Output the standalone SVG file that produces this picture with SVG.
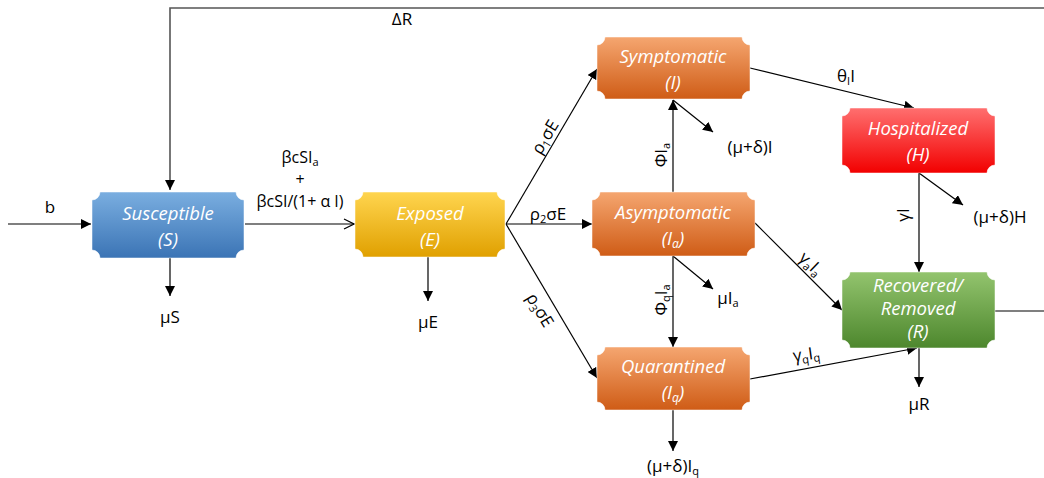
<svg xmlns="http://www.w3.org/2000/svg" width="1044" height="478" viewBox="0 0 1044 478">
  <defs>
    <linearGradient id="gBlue" x1="0" y1="0" x2="0" y2="1">
      <stop offset="0" stop-color="#7aaee0"/>
      <stop offset="1" stop-color="#3b74b5"/>
    </linearGradient>
    <linearGradient id="gGold" x1="0" y1="0" x2="0" y2="1">
      <stop offset="0" stop-color="#ffd54f"/>
      <stop offset="1" stop-color="#e0a000"/>
    </linearGradient>
    <linearGradient id="gOrange" x1="0" y1="0" x2="0" y2="1">
      <stop offset="0" stop-color="#f5a670"/>
      <stop offset="1" stop-color="#cf5c16"/>
    </linearGradient>
    <linearGradient id="gRed" x1="0" y1="0" x2="0" y2="1">
      <stop offset="0" stop-color="#ff6f6f"/>
      <stop offset="1" stop-color="#f20000"/>
    </linearGradient>
    <linearGradient id="gGreen" x1="0" y1="0" x2="0" y2="1">
      <stop offset="0" stop-color="#93c46e"/>
      <stop offset="1" stop-color="#4d872d"/>
    </linearGradient>
    <marker id="arr" viewBox="0 0 10 10" refX="10" refY="5" markerWidth="10" markerHeight="10" markerUnits="userSpaceOnUse" orient="auto">
      <path d="M0,0 L10,5 L0,10 Z" fill="#000"/>
    </marker>
    <marker id="open" viewBox="0 0 12 12" refX="11" refY="6" markerWidth="12" markerHeight="12" markerUnits="userSpaceOnUse" orient="auto">
      <path d="M1,1 L11,6 L1,11" fill="none" stroke="#000" stroke-width="1.2"/>
    </marker>
  </defs>
  <style>
    .node path { stroke: #ffffff; stroke-opacity: 0.5; stroke-width: 1; }
    .nt { font-family: "Open Sans", "Liberation Sans", sans-serif; font-style: italic; font-size: 18.5px; fill: #ffffff; text-anchor: middle; }
    .lbl { font-family: "Open Sans", "Liberation Sans", sans-serif; font-size: 17px; fill: #000; text-anchor: middle; }
    .rate { font-size: 16px; }
    .sub { font-size: 11px; }
    .ln { stroke: #000; stroke-width: 1.2; fill: none; }
    .loop { stroke: #555; stroke-width: 1.6; fill: none; }
  </style>

  <!-- connectors -->
  <g id="connectors">
    <!-- feedback loop R back to S -->
    <path class="loop" d="M1044,8 H170 V190" marker-end="url(#arr)"/>
    <line class="ln" x1="995" y1="311" x2="1044" y2="311"/>
    <!-- inflow and deaths around S -->
    <line class="ln" x1="8" y1="224" x2="91" y2="224" marker-end="url(#arr)"/>
    <line class="ln" x1="170" y1="258" x2="170" y2="296" marker-end="url(#arr)"/>
    <!-- infection -->
    <line class="ln" x1="245" y1="224" x2="354" y2="224" marker-end="url(#open)"/>
    <line class="ln" x1="428" y1="256" x2="428" y2="301" marker-end="url(#arr)"/>
    <!-- branching from E -->
    <line class="ln" x1="506" y1="224" x2="597" y2="69" marker-end="url(#arr)"/>
    <line class="ln" x1="506" y1="224" x2="592" y2="224" marker-end="url(#arr)"/>
    <line class="ln" x1="506" y1="224" x2="597" y2="378" marker-end="url(#arr)"/>
    <!-- Ia transitions -->
    <line class="ln" x1="673" y1="192" x2="673" y2="100" marker-end="url(#arr)"/>
    <line class="ln" x1="673" y1="256" x2="673" y2="347" marker-end="url(#arr)"/>
    <line class="ln" x1="673" y1="256" x2="713" y2="289" marker-end="url(#arr)"/>
    <line class="ln" x1="755" y1="223" x2="842" y2="310" marker-end="url(#arr)"/>
    <!-- I transitions -->
    <line class="ln" x1="673" y1="100" x2="713" y2="132" marker-end="url(#arr)"/>
    <line class="ln" x1="750" y1="68" x2="914" y2="108" marker-end="url(#arr)"/>
    <!-- Iq transitions -->
    <line class="ln" x1="673" y1="410" x2="673" y2="451" marker-end="url(#arr)"/>
    <line class="ln" x1="750" y1="379" x2="917" y2="348" marker-end="url(#arr)"/>
    <!-- H transitions -->
    <line class="ln" x1="919" y1="173" x2="919" y2="272" marker-end="url(#arr)"/>
    <line class="ln" x1="919" y1="173" x2="963" y2="205" marker-end="url(#arr)"/>
    <!-- R deaths -->
    <line class="ln" x1="919" y1="348" x2="919" y2="387" marker-end="url(#arr)"/>
  </g>

  <!-- connector labels -->
  <g id="labels">
    <text class="lbl" x="402" y="25">ΔR</text>
    <text class="lbl" x="50" y="213">b</text>
    <text class="lbl" x="170" y="323">μS</text>
    <text class="lbl rate" x="300" y="163">βcSI<tspan class="sub" dy="3">a</tspan></text>
    <text class="lbl rate" x="300" y="185">+</text>
    <text class="lbl rate" x="300" y="207">βcSI/(1+ α I)</text>
    <text class="lbl" x="428" y="328">μE</text>
    <text class="lbl" transform="translate(550,140) rotate(-59)">ρ<tspan class="sub" dy="3">1</tspan><tspan dy="-3">σE</tspan></text>
    <text class="lbl" x="548" y="220">ρ<tspan class="sub" dy="3">2</tspan><tspan dy="-3">σE</tspan></text>
    <text class="lbl" transform="translate(535,313) rotate(59)">ρ<tspan class="sub" dy="3">3</tspan><tspan dy="-3">σE</tspan></text>
    <text class="lbl" transform="translate(667,155) rotate(-90)">ΦI<tspan class="sub" dy="3">a</tspan></text>
    <text class="lbl" transform="translate(667,300) rotate(-90)">Φ<tspan class="sub" dy="3">q</tspan><tspan dy="-3">I</tspan><tspan class="sub" dy="3">a</tspan></text>
    <text class="lbl" x="750" y="153">(μ+δ)I</text>
    <text class="lbl" x="728" y="304">μI<tspan class="sub" dy="3">a</tspan></text>
    <text class="lbl" x="673" y="472">(μ+δ)I<tspan class="sub" dy="3">q</tspan></text>
    <text class="lbl" x="846" y="82">θ<tspan class="sub" dy="3">I</tspan><tspan dy="-3">I</tspan></text>
    <text class="lbl" transform="translate(909,215) rotate(-90)">γI</text>
    <text class="lbl" x="1000" y="223">(μ+δ)H</text>
    <text class="lbl" transform="translate(807,268) rotate(44)">γ<tspan class="sub" dy="3">a</tspan><tspan dy="-3">I</tspan><tspan class="sub" dy="3">a</tspan></text>
    <text class="lbl" transform="translate(807,360) rotate(-8)">γ<tspan class="sub" dy="3">q</tspan><tspan dy="-3">I</tspan><tspan class="sub" dy="3">q</tspan></text>
    <text class="lbl" x="919" y="410">μR</text>
  </g>

  <!-- compartments -->
  <g id="node-S" class="node">
    <path fill="url(#gBlue)" d="M100,192 H236 A8,8 0 0 0 244,200 V250 A8,8 0 0 0 236,258 H100 A8,8 0 0 0 92,250 V200 A8,8 0 0 0 100,192 Z"/>
    <text class="nt" x="168" y="220">Susceptible</text>
    <text class="nt" x="168" y="246">(S)</text>
  </g>
  <g id="node-E" class="node">
    <path fill="url(#gGold)" d="M363,192 H497 A8,8 0 0 0 505,200 V249 A8,8 0 0 0 497,257 H363 A8,8 0 0 0 355,249 V200 A8,8 0 0 0 363,192 Z"/>
    <text class="nt" x="430" y="220">Exposed</text>
    <text class="nt" x="430" y="246">(E)</text>
  </g>
  <g id="node-I" class="node">
    <path fill="url(#gOrange)" d="M605,37 H742 A8,8 0 0 0 750,45 V91 A8,8 0 0 0 742,99 H605 A8,8 0 0 0 597,91 V45 A8,8 0 0 0 605,37 Z"/>
    <text class="nt" x="673" y="63">Symptomatic</text>
    <text class="nt" x="673" y="89">(I)</text>
  </g>
  <g id="node-Ia" class="node">
    <path fill="url(#gOrange)" d="M600,192 H747 A8,8 0 0 0 755,200 V248 A8,8 0 0 0 747,256 H600 A8,8 0 0 0 592,248 V200 A8,8 0 0 0 600,192 Z"/>
    <text class="nt" x="673" y="219">Asymptomatic</text>
    <text class="nt" x="673" y="245">(I<tspan font-size="12" dy="3">a</tspan><tspan dy="-3">)</tspan></text>
  </g>
  <g id="node-Iq" class="node">
    <path fill="url(#gOrange)" d="M605,347 H742 A8,8 0 0 0 750,355 V402 A8,8 0 0 0 742,410 H605 A8,8 0 0 0 597,402 V355 A8,8 0 0 0 605,347 Z"/>
    <text class="nt" x="673" y="373">Quarantined</text>
    <text class="nt" x="673" y="399">(I<tspan font-size="12" dy="3">q</tspan><tspan dy="-3">)</tspan></text>
  </g>
  <g id="node-H" class="node">
    <path fill="url(#gRed)" d="M850,108 H987 A8,8 0 0 0 995,116 V165 A8,8 0 0 0 987,173 H850 A8,8 0 0 0 842,165 V116 A8,8 0 0 0 850,108 Z"/>
    <text class="nt" x="918" y="135">Hospitalized</text>
    <text class="nt" x="918" y="161">(H)</text>
  </g>
  <g id="node-R" class="node">
    <path fill="url(#gGreen)" d="M850,272 H987 A8,8 0 0 0 995,280 V340 A8,8 0 0 0 987,348 H850 A8,8 0 0 0 842,340 V280 A8,8 0 0 0 850,272 Z"/>
    <text class="nt" x="918" y="292">Recovered/</text>
    <text class="nt" x="918" y="315">Removed</text>
    <text class="nt" x="918" y="338">(R)</text>
  </g>
</svg>
